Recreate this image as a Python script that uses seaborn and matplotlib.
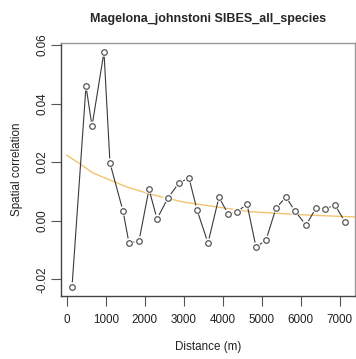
import numpy as np
import pandas as pd
import matplotlib
matplotlib.use('Agg')
import matplotlib.pyplot as plt
import seaborn as sns

# --- data ---
distance = [136, 495, 649, 956, 1110, 1444, 1597, 1854, 2110, 2315,
            2597, 2879, 3136, 3341, 3623, 3905, 4136, 4367, 4623, 4854,
            5110, 5367, 5623, 5854, 6136, 6392, 6623, 6879, 7136]
correlation = [-0.0226, 0.0460, 0.0323, 0.0576, 0.0197, 0.0033, -0.0076, -0.0069,
               0.0108, 0.0006, 0.0078, 0.0129, 0.0146, 0.0037, -0.0076, 0.0081,
               0.0023, 0.0030, 0.0057, -0.0090, -0.0066, 0.0043, 0.0081, 0.0033,
               -0.0015, 0.0043, 0.0040, 0.0054, -0.0004]

# fitted curve (orange), read at a few distances
fit_distance = [0, 341, 674, 1110, 1546, 2136, 2982, 3854, 4700, 5546, 6418, 7392]
fit_value = [0.0224, 0.0194, 0.0163, 0.0139, 0.0115, 0.0091, 0.0064, 0.0047,
             0.0031, 0.0024, 0.0018, 0.0013]

xticks = [0, 1000, 2000, 3000, 4000, 5000, 6000, 7000]
yticks = [-0.02, 0.00, 0.02, 0.04, 0.06]

df = pd.DataFrame({'d': distance, 'r': correlation})
fit = pd.DataFrame({'d': fit_distance, 'r': fit_value})

sns.set_style('white')
plt.rcParams['font.family'] = ['Liberation Sans', 'DejaVu Sans']

fig = plt.figure(figsize=(3.56, 3.59), dpi=100)
ax = fig.add_axes([61 / 356, 1 - 296 / 359, (355 - 61) / 356, (296 - 42.7) / 359])

# line first, then white discs to make the R "type=b" gaps, then open circles
sns.lineplot(data=df, x='d', y='r', ax=ax, color='#3a3a3a', linewidth=0.8,
             sort=False, zorder=2)
sns.lineplot(data=fit, x='d', y='r', ax=ax, color='#F2C46D', linewidth=1.0, zorder=1)
sns.scatterplot(data=df, x='d', y='r', ax=ax, s=45, color='white',
                edgecolor='none', linewidth=0, zorder=3)
sns.scatterplot(data=df, x='d', y='r', ax=ax, s=16, facecolor='white',
                edgecolor='#555555', linewidth=0.9, zorder=4)

ax.set_xlim(-146, 7392)
ax.set_ylim(-0.0257, 0.0608)
ax.set_xticks(xticks)
ax.set_xticklabels([str(t) for t in xticks])
ax.set_yticks(yticks)
ax.set_yticklabels([f'{t:.2f}' for t in yticks], rotation=90, va='center')

ax.tick_params(axis='both', direction='out', length=7, width=0.8,
               color='#555555', labelsize=8.4, labelcolor='#222222')
ax.tick_params(axis='x', pad=6)
ax.tick_params(axis='y', pad=2)
ax.tick_params(left=True, bottom=True)

for side in ['left', 'bottom']:
    ax.spines[side].set_color('#444444')
    ax.spines[side].set_linewidth(1.0)
for side in ['top', 'right']:
    ax.spines[side].set_color('#999999')
    ax.spines[side].set_linewidth(1.0)

ax.set_xlabel('Distance (m)', fontsize=8.4, labelpad=11, color='#222222')
ax.set_ylabel('Spatial correlation', fontsize=8.4, labelpad=10, color='#222222')
ax.set_title('Magelona_johnstoni SIBES_all_species', fontsize=9,
             fontweight='bold', pad=15)

plt.savefig('out.png', dpi=100)
